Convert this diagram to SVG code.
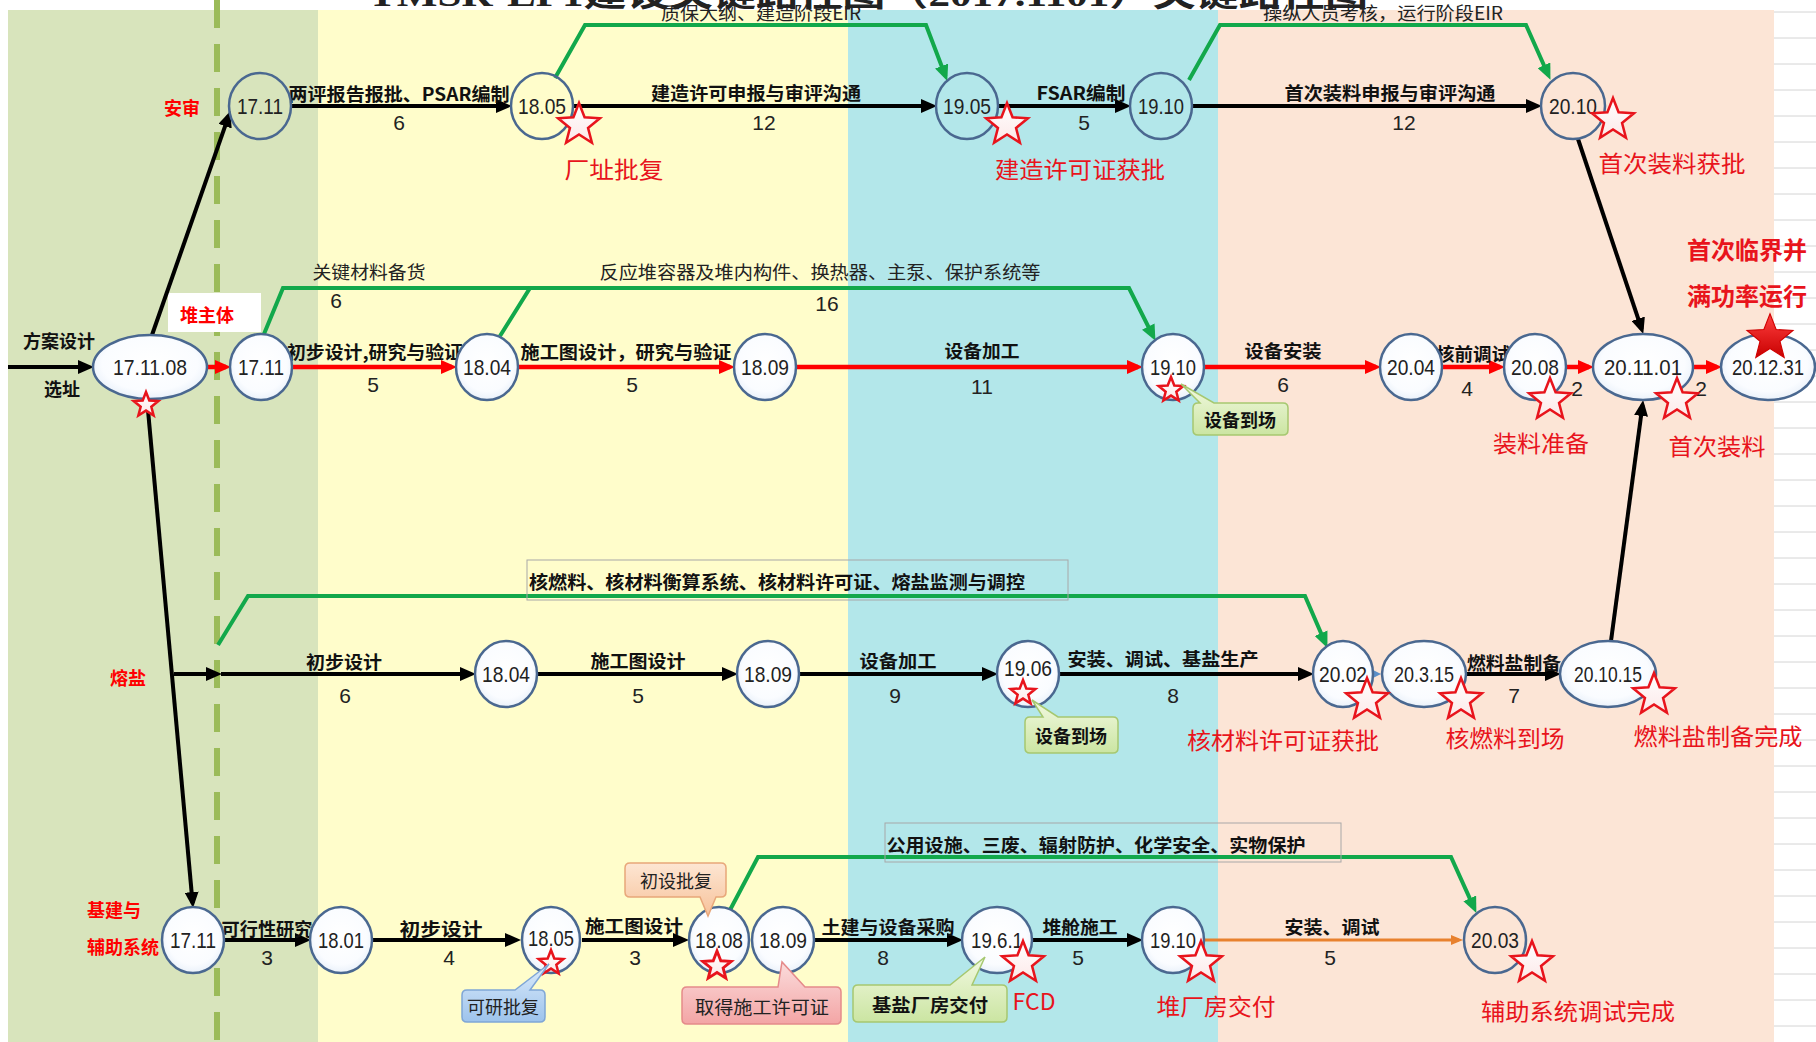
<svg xmlns="http://www.w3.org/2000/svg" width="1816" height="1042" viewBox="0 0 1816 1042">
<style>
.b{font-family:"Noto Sans CJK SC",sans-serif;font-weight:700;font-size:18px;fill:#111;text-anchor:middle;dominant-baseline:central}
.n{font-family:"Noto Sans CJK SC",sans-serif;font-weight:400;font-size:18px;fill:#222;text-anchor:middle;dominant-baseline:central}
.num{font-family:"Liberation Sans",sans-serif;font-size:21px;fill:#222;text-anchor:middle;dominant-baseline:central}
.nt{font-family:"Liberation Sans Narrow","Liberation Sans",sans-serif;font-size:22px;fill:#222;text-anchor:middle;dominant-baseline:central}
.rl{font-family:"Noto Sans CJK SC",sans-serif;font-weight:400;font-size:23px;fill:#E8141C;text-anchor:middle;dominant-baseline:central}
.rg{font-family:"Noto Sans CJK SC",sans-serif;font-weight:700;font-size:18px;fill:#FF0000;dominant-baseline:central}
.rb{font-family:"Noto Sans CJK SC",sans-serif;font-weight:700;font-size:24px;fill:#E8141C;text-anchor:middle;dominant-baseline:central}
.node{fill:url(#nf);stroke:#4A6890;stroke-width:2.5}
.open{fill:none;stroke:#4A6890;stroke-width:2.5}
.k{fill:none;stroke:#000;stroke-width:4}
.r{fill:none;stroke:#FF0000;stroke-width:4.5}
.g{fill:none;stroke:#12A84B;stroke-width:4;stroke-linejoin:miter}
.o{fill:none;stroke:#E8812E;stroke-width:3}
.star{fill:url(#sf);stroke:#E8141C;stroke-width:2.5;stroke-linejoin:miter}
.grid{stroke:#D4D4D4;stroke-width:1}
.lbox{fill:none;stroke:#A8A8A8;stroke-width:1}
</style>
<defs>
<radialGradient id="nf" cx="0.5" cy="0.45" r="0.6"><stop offset="0" stop-color="#FFFFFF"/><stop offset="0.7" stop-color="#FAFCFF"/><stop offset="1" stop-color="#E4EDF8"/></radialGradient>
<linearGradient id="sf" x1="0" y1="0" x2="0" y2="1"><stop offset="0" stop-color="#FFFFFF"/><stop offset="1" stop-color="#FCE8E8"/></linearGradient>
<linearGradient id="ss" x1="0" y1="0" x2="0" y2="1"><stop offset="0" stop-color="#FF4040"/><stop offset="1" stop-color="#C80000"/></linearGradient>
<linearGradient id="cg" x1="0" y1="0" x2="0" y2="1"><stop offset="0" stop-color="#F2F9E1"/><stop offset="1" stop-color="#CBE5A2"/></linearGradient>
<linearGradient id="cb" x1="0" y1="0" x2="0" y2="1"><stop offset="0" stop-color="#DCEBFA"/><stop offset="1" stop-color="#9DC3EC"/></linearGradient>
<linearGradient id="cp" x1="0" y1="0" x2="0" y2="1"><stop offset="0" stop-color="#FDE6D3"/><stop offset="1" stop-color="#F7C29A"/></linearGradient>
<linearGradient id="cr" x1="0" y1="0" x2="0" y2="1"><stop offset="0" stop-color="#FBDCDC"/><stop offset="1" stop-color="#F3A5A5"/></linearGradient>
<marker id="ak" markerUnits="userSpaceOnUse" markerWidth="16" markerHeight="14" refX="11" refY="7" orient="auto"><path d="M0,0 L16,7 L0,14 Z" fill="#000"/></marker>
<marker id="ar" markerUnits="userSpaceOnUse" markerWidth="16" markerHeight="14" refX="11" refY="7" orient="auto"><path d="M0,0 L16,7 L0,14 Z" fill="#FF0000"/></marker>
<marker id="ag" markerUnits="userSpaceOnUse" markerWidth="16" markerHeight="14" refX="11" refY="7" orient="auto"><path d="M0,0 L16,7 L0,14 Z" fill="#12A84B"/></marker>
<marker id="ao" markerUnits="userSpaceOnUse" markerWidth="12" markerHeight="10" refX="8" refY="5" orient="auto"><path d="M0,0 L12,5 L0,10 Z" fill="#E8812E"/></marker>
<marker id="au" markerUnits="userSpaceOnUse" markerWidth="10" markerHeight="10" refX="6" refY="5" orient="auto"><path d="M0,0 L10,5 L0,10 Z" fill="#5B8FC8"/></marker>
<polygon id="st" points="0,-22 5.58,-7.69 20.92,-6.8 9.04,2.94 12.93,17.8 0,9.5 -12.93,17.8 -9.04,2.94 -20.92,-6.8 -5.58,-7.69"/>
<polygon id="sm" points="0,-13 3.29,-4.53 12.36,-4.02 5.33,1.73 7.64,10.52 0,5.6 -7.64,10.52 -5.33,1.73 -12.36,-4.02 -3.29,-4.53"/>
</defs>

<rect x="0" y="0" width="1816" height="1042" fill="#FFFFFF"/>
<text x="368" y="6" font-family="Liberation Serif,'Noto Sans CJK SC',serif" font-weight="700" font-size="34" fill="#222" textLength="1000" lengthAdjust="spacingAndGlyphs">TMSR-LF1建设关键路径图（2017.1101）关键路径图</text>

<g id="bands">
<rect x="8" y="10" width="310" height="1032" fill="#D8E4BC"/>
<rect x="318" y="10" width="530" height="1032" fill="#FFFDCB"/>
<rect x="848" y="10" width="370" height="1032" fill="#B3E7EA"/>
<rect x="1218" y="10" width="556" height="1032" fill="#FCE5D6"/>
</g>
<g id="grid">
<line class="grid" x1="1774" y1="12" x2="1816" y2="12"/><line class="grid" x1="1774" y1="38" x2="1816" y2="38"/><line class="grid" x1="1774" y1="64" x2="1816" y2="64"/><line class="grid" x1="1774" y1="90" x2="1816" y2="90"/><line class="grid" x1="1774" y1="116" x2="1816" y2="116"/><line class="grid" x1="1774" y1="142" x2="1816" y2="142"/><line class="grid" x1="1774" y1="168" x2="1816" y2="168"/><line class="grid" x1="1774" y1="194" x2="1816" y2="194"/><line class="grid" x1="1774" y1="220" x2="1816" y2="220"/><line class="grid" x1="1774" y1="246" x2="1816" y2="246"/><line class="grid" x1="1774" y1="272" x2="1816" y2="272"/><line class="grid" x1="1774" y1="298" x2="1816" y2="298"/><line class="grid" x1="1774" y1="324" x2="1816" y2="324"/><line class="grid" x1="1774" y1="350" x2="1816" y2="350"/><line class="grid" x1="1774" y1="376" x2="1816" y2="376"/><line class="grid" x1="1774" y1="402" x2="1816" y2="402"/><line class="grid" x1="1774" y1="428" x2="1816" y2="428"/><line class="grid" x1="1774" y1="454" x2="1816" y2="454"/><line class="grid" x1="1774" y1="480" x2="1816" y2="480"/><line class="grid" x1="1774" y1="506" x2="1816" y2="506"/><line class="grid" x1="1774" y1="532" x2="1816" y2="532"/><line class="grid" x1="1774" y1="558" x2="1816" y2="558"/><line class="grid" x1="1774" y1="584" x2="1816" y2="584"/><line class="grid" x1="1774" y1="610" x2="1816" y2="610"/><line class="grid" x1="1774" y1="636" x2="1816" y2="636"/><line class="grid" x1="1774" y1="662" x2="1816" y2="662"/><line class="grid" x1="1774" y1="688" x2="1816" y2="688"/><line class="grid" x1="1774" y1="714" x2="1816" y2="714"/><line class="grid" x1="1774" y1="740" x2="1816" y2="740"/><line class="grid" x1="1774" y1="766" x2="1816" y2="766"/><line class="grid" x1="1774" y1="792" x2="1816" y2="792"/><line class="grid" x1="1774" y1="818" x2="1816" y2="818"/><line class="grid" x1="1774" y1="844" x2="1816" y2="844"/><line class="grid" x1="1774" y1="870" x2="1816" y2="870"/><line class="grid" x1="1774" y1="896" x2="1816" y2="896"/><line class="grid" x1="1774" y1="922" x2="1816" y2="922"/><line class="grid" x1="1774" y1="948" x2="1816" y2="948"/><line class="grid" x1="1774" y1="974" x2="1816" y2="974"/><line class="grid" x1="1774" y1="1000" x2="1816" y2="1000"/><line class="grid" x1="1774" y1="1026" x2="1816" y2="1026"/>
</g>
<line id="divider" x1="217" y1="0" x2="217" y2="1042" stroke="#9BBB59" stroke-width="6" stroke-dasharray="28 16"/>
<rect x="168" y="293" width="93" height="39" fill="#FFFFFF"/>

<g id="connectors">
<path class="k" d="M291,106 H507" marker-end="url(#ak)"/>
<path class="k" d="M573,106 H932" marker-end="url(#ak)"/>
<path class="k" d="M998,106 H1126" marker-end="url(#ak)"/>
<path class="k" d="M1192,106 H1537" marker-end="url(#ak)"/>
<path class="k" d="M8,367 H89" marker-end="url(#ak)"/>
<path class="r" d="M207,367 H226" marker-end="url(#ar)"/>
<path class="r" d="M292,367 H452" marker-end="url(#ar)"/>
<path class="r" d="M518,367 H730" marker-end="url(#ar)"/>
<path class="r" d="M796,367 H1138" marker-end="url(#ar)"/>
<path class="r" d="M1204,367 H1376" marker-end="url(#ar)"/>
<path class="r" d="M1442,367 H1500" marker-end="url(#ar)"/>
<path class="r" d="M1566,367 H1589" marker-end="url(#ar)"/>
<path class="r" d="M1693,367 H1717" marker-end="url(#ar)"/>
<path class="k" d="M174,674 H217" marker-end="url(#ak)"/>
<path class="k" d="M221,674 H471" marker-end="url(#ak)"/>
<path class="k" d="M537,674 H733" marker-end="url(#ak)"/>
<path class="k" d="M799,674 H993" marker-end="url(#ak)"/>
<path class="k" d="M1059,674 H1309" marker-end="url(#ak)"/>
<path d="M1373,674 H1377" stroke="#5B8FC8" stroke-width="3" fill="none" marker-end="url(#au)"/>
<path class="k" d="M1466,674 H1556" marker-end="url(#ak)"/>
<path class="k" d="M224,940 H306" marker-end="url(#ak)"/>
<path class="k" d="M372,940 H516" marker-end="url(#ak)"/>
<path class="k" d="M582,940 H684" marker-end="url(#ak)"/>
<path class="k" d="M814,940 H958" marker-end="url(#ak)"/>
<path class="k" d="M1032,940 H1138" marker-end="url(#ak)"/>
<path class="o" d="M1204,940 H1459" marker-end="url(#ao)"/>
<path class="k" d="M152,335 L228.7,115.8" marker-end="url(#ak)"/>
<path class="k" d="M147,399 L192.6,903" marker-end="url(#ak)"/>
<path class="k" d="M1578,139 L1641.7,329.2" marker-end="url(#ak)"/>
<path class="k" d="M1611,641 L1642.5,405" marker-end="url(#ak)"/>
<path class="g" d="M555,78 L585,25 L926,25 L945.5,76.3" marker-end="url(#ag)"/>
<path class="g" d="M1189,80 L1220,25 L1526,25 L1548.4,75.3" marker-end="url(#ag)"/>
<path class="g" d="M264,334 L283,288 L530,288"/>
<path class="g" d="M500,336 L530,288 L1129,288 L1153.2,336.4" marker-end="url(#ag)"/>
<path class="g" d="M218,645 L248,596 L1305,596 L1325.4,643.3" marker-end="url(#ag)"/>
<path class="g" d="M730,910 L758,857 L1451,857 L1474.3,908.4" marker-end="url(#ag)"/>
</g>

<g id="connector-labels">
<text class="b" x="399" y="93" textLength="221" lengthAdjust="spacingAndGlyphs">两评报告报批、PSAR编制</text>
<text class="num" x="399" y="122">6</text>
<text class="b" x="756" y="92" textLength="210" lengthAdjust="spacingAndGlyphs">建造许可申报与审评沟通</text>
<text class="num" x="764" y="122">12</text>
<text class="b" x="1081" y="92" textLength="89" lengthAdjust="spacingAndGlyphs">FSAR编制</text>
<text class="num" x="1084" y="122">5</text>
<text class="b" x="1390" y="92" textLength="211" lengthAdjust="spacingAndGlyphs">首次装料申报与审评沟通</text>
<text class="num" x="1404" y="122">12</text>
<text class="n" x="761" y="12" textLength="200" lengthAdjust="spacingAndGlyphs">质保大纲、建造阶段EIR</text>
<text class="n" x="1383" y="12" textLength="240" lengthAdjust="spacingAndGlyphs">操纵人员考核，运行阶段EIR</text>

<text class="n" x="369" y="271" textLength="113" lengthAdjust="spacingAndGlyphs">关键材料备货</text>
<text class="num" x="336" y="300">6</text>
<text class="n" x="820" y="271" textLength="441" lengthAdjust="spacingAndGlyphs">反应堆容器及堆内构件、换热器、主泵、保护系统等</text>
<text class="num" x="827" y="303">16</text>
<text class="b" x="375" y="351" textLength="176" lengthAdjust="spacingAndGlyphs">初步设计,研究与验证</text>
<text class="num" x="373" y="384">5</text>
<text class="b" x="626" y="351" textLength="211" lengthAdjust="spacingAndGlyphs">施工图设计，研究与验证</text>
<text class="num" x="632" y="384">5</text>
<text class="b" x="982" y="350" textLength="75" lengthAdjust="spacingAndGlyphs">设备加工</text>
<text class="num" x="982" y="386">11</text>
<text class="b" x="1283" y="350" textLength="77" lengthAdjust="spacingAndGlyphs">设备安装</text>
<text class="num" x="1283" y="384">6</text>
<text class="b" x="1473" y="353" textLength="74" lengthAdjust="spacingAndGlyphs">核前调试</text>
<text class="num" x="1467" y="388">4</text>
<text class="num" x="1577" y="388">2</text>
<text class="num" x="1701" y="388">2</text>

<rect class="lbox" x="527" y="560" width="541" height="40"/>
<text class="b" x="777" y="581" textLength="496" lengthAdjust="spacingAndGlyphs">核燃料、核材料衡算系统、核材料许可证、熔盐监测与调控</text>
<text class="b" x="344" y="661" textLength="76" lengthAdjust="spacingAndGlyphs">初步设计</text>
<text class="num" x="345" y="695">6</text>
<text class="b" x="638" y="660" textLength="95" lengthAdjust="spacingAndGlyphs">施工图设计</text>
<text class="num" x="638" y="695">5</text>
<text class="b" x="898" y="660" textLength="77" lengthAdjust="spacingAndGlyphs">设备加工</text>
<text class="num" x="895" y="695">9</text>
<text class="b" x="1163" y="658" textLength="191" lengthAdjust="spacingAndGlyphs">安装、调试、基盐生产</text>
<text class="num" x="1173" y="695">8</text>
<text class="b" x="1514" y="662" textLength="94" lengthAdjust="spacingAndGlyphs">燃料盐制备</text>
<text class="num" x="1514" y="695">7</text>

<rect class="lbox" x="885" y="823" width="456" height="39"/>
<text class="b" x="1096" y="844" textLength="419" lengthAdjust="spacingAndGlyphs">公用设施、三废、辐射防护、化学安全、实物保护</text>
<text class="b" x="267" y="928" textLength="91" lengthAdjust="spacingAndGlyphs">可行性研究</text>
<text class="num" x="267" y="957">3</text>
<text class="b" x="441" y="928" textLength="83" lengthAdjust="spacingAndGlyphs">初步设计</text>
<text class="num" x="449" y="957">4</text>
<text class="b" x="634" y="925" textLength="98" lengthAdjust="spacingAndGlyphs">施工图设计</text>
<text class="num" x="635" y="957">3</text>
<text class="b" x="888" y="926" textLength="133" lengthAdjust="spacingAndGlyphs">土建与设备采购</text>
<text class="num" x="883" y="957">8</text>
<text class="b" x="1080" y="926" textLength="75" lengthAdjust="spacingAndGlyphs">堆舱施工</text>
<text class="num" x="1078" y="957">5</text>
<text class="b" x="1332" y="926" textLength="95" lengthAdjust="spacingAndGlyphs">安装、调试</text>
<text class="num" x="1330" y="957">5</text>
</g>

<g id="n-r1-1711"><ellipse class="open" cx="260" cy="106" rx="31" ry="33"/><text class="nt" x="260" y="106" textLength="46" lengthAdjust="spacingAndGlyphs">17.11</text></g>
<g id="n-r1-1805"><ellipse class="open" cx="542" cy="106" rx="31" ry="33"/><text class="nt" x="542" y="106" textLength="48" lengthAdjust="spacingAndGlyphs">18.05</text></g>
<g id="n-r1-1905"><ellipse class="open" cx="967" cy="106" rx="31" ry="33"/><text class="nt" x="967" y="106" textLength="48" lengthAdjust="spacingAndGlyphs">19.05</text></g>
<g id="n-r1-1910"><ellipse class="open" cx="1161" cy="106" rx="31" ry="33"/><text class="nt" x="1161" y="106" textLength="46" lengthAdjust="spacingAndGlyphs">19.10</text></g>
<g id="n-r1-2010"><ellipse class="open" cx="1573" cy="106" rx="32" ry="33"/><text class="nt" x="1573" y="106" textLength="48" lengthAdjust="spacingAndGlyphs">20.10</text></g>

<g id="n-start"><ellipse class="node" cx="150" cy="367" rx="57" ry="32"/><text class="nt" x="150" y="367" textLength="74" lengthAdjust="spacingAndGlyphs">17.11.08</text></g>
<g id="n-r2-1711"><ellipse class="node" cx="261" cy="367" rx="31" ry="33"/><text class="nt" x="261" y="367" textLength="46" lengthAdjust="spacingAndGlyphs">17.11</text></g>
<g id="n-r2-1804"><ellipse class="node" cx="487" cy="367" rx="31" ry="33"/><text class="nt" x="487" y="367" textLength="48" lengthAdjust="spacingAndGlyphs">18.04</text></g>
<g id="n-r2-1809"><ellipse class="node" cx="765" cy="367" rx="31" ry="33"/><text class="nt" x="765" y="367" textLength="48" lengthAdjust="spacingAndGlyphs">18.09</text></g>
<g id="n-r2-1910"><ellipse class="node" cx="1173" cy="367" rx="31" ry="33"/><text class="nt" x="1173" y="367" textLength="46" lengthAdjust="spacingAndGlyphs">19.10</text></g>
<g id="n-r2-2004"><ellipse class="node" cx="1411" cy="367" rx="31" ry="33"/><text class="nt" x="1411" y="367" textLength="48" lengthAdjust="spacingAndGlyphs">20.04</text></g>
<g id="n-r2-2008"><ellipse class="node" cx="1535" cy="367" rx="31" ry="33"/><text class="nt" x="1535" y="367" textLength="48" lengthAdjust="spacingAndGlyphs">20.08</text></g>
<g id="n-r2-201101"><ellipse class="node" cx="1643" cy="367" rx="50" ry="33"/><text class="nt" x="1643" y="367" textLength="78" lengthAdjust="spacingAndGlyphs">20.11.01</text></g>
<g id="n-r2-201231"><ellipse class="node" cx="1768" cy="367" rx="47" ry="33"/><text class="nt" x="1768" y="367" textLength="72" lengthAdjust="spacingAndGlyphs">20.12.31</text></g>

<g id="n-r3-1804"><ellipse class="node" cx="506" cy="674" rx="31" ry="33"/><text class="nt" x="506" y="674" textLength="48" lengthAdjust="spacingAndGlyphs">18.04</text></g>
<g id="n-r3-1809"><ellipse class="node" cx="768" cy="674" rx="31" ry="33"/><text class="nt" x="768" y="674" textLength="48" lengthAdjust="spacingAndGlyphs">18.09</text></g>
<g id="n-r3-1906"><ellipse class="node" cx="1028" cy="674" rx="31" ry="33"/><text class="nt" x="1028" y="668" textLength="48" lengthAdjust="spacingAndGlyphs">19.06</text></g>
<g id="n-r3-2002"><ellipse class="node" cx="1343" cy="674" rx="30" ry="33"/><text class="nt" x="1343" y="674" textLength="48" lengthAdjust="spacingAndGlyphs">20.02</text></g>
<g id="n-r3-20315"><ellipse class="node" cx="1424" cy="674" rx="42" ry="33"/><text class="nt" x="1424" y="674" textLength="60" lengthAdjust="spacingAndGlyphs">20.3.15</text></g>
<g id="n-r3-201015"><ellipse class="node" cx="1608" cy="674" rx="48" ry="33"/><text class="nt" x="1608" y="674" textLength="68" lengthAdjust="spacingAndGlyphs">20.10.15</text></g>

<g id="n-r4-1711"><ellipse class="node" cx="193" cy="940" rx="31" ry="33"/><text class="nt" x="193" y="940" textLength="46" lengthAdjust="spacingAndGlyphs">17.11</text></g>
<g id="n-r4-1801"><ellipse class="node" cx="341" cy="940" rx="31" ry="33"/><text class="nt" x="341" y="940" textLength="46" lengthAdjust="spacingAndGlyphs">18.01</text></g>
<g id="n-r4-1805"><ellipse class="node" cx="551" cy="940" rx="29" ry="33"/><text class="nt" x="551" y="938" textLength="46" lengthAdjust="spacingAndGlyphs">18.05</text></g>
<g id="n-r4-1808"><ellipse class="node" cx="719" cy="940" rx="30" ry="33"/><text class="nt" x="719" y="940" textLength="48" lengthAdjust="spacingAndGlyphs">18.08</text></g>
<g id="n-r4-1809"><ellipse class="node" cx="783" cy="940" rx="31" ry="33"/><text class="nt" x="783" y="940" textLength="48" lengthAdjust="spacingAndGlyphs">18.09</text></g>
<g id="n-r4-1961"><ellipse class="node" cx="997" cy="940" rx="35" ry="33"/><text class="nt" x="997" y="940" textLength="52" lengthAdjust="spacingAndGlyphs">19.6.1</text></g>
<g id="n-r4-1910"><ellipse class="node" cx="1173" cy="940" rx="31" ry="33"/><text class="nt" x="1173" y="940" textLength="46" lengthAdjust="spacingAndGlyphs">19.10</text></g>
<g id="n-r4-2003"><ellipse class="open" cx="1495" cy="940" rx="31" ry="33"/><text class="nt" x="1495" y="940" textLength="48" lengthAdjust="spacingAndGlyphs">20.03</text></g>

<g id="stars">
<use href="#st" class="star" transform="translate(579,125)"/>
<use href="#st" class="star" transform="translate(1007,125)"/>
<use href="#st" class="star" transform="translate(1613,120)"/>
<use href="#st" class="star" transform="translate(1550,400)"/>
<use href="#st" class="star" transform="translate(1677,400)"/>
<use href="#st" class="star" transform="translate(1367,700)"/>
<use href="#st" class="star" transform="translate(1461,700)"/>
<use href="#st" class="star" transform="translate(1654,695)"/>
<use href="#st" class="star" transform="translate(1023,963)"/>
<use href="#st" class="star" transform="translate(1201,963)"/>
<use href="#st" class="star" transform="translate(1532,963)"/>
<use href="#sm" class="star" transform="translate(146,405)"/>
<use href="#sm" class="star" transform="translate(1171,390)"/>
<use href="#sm" class="star" transform="translate(1023,693)"/>
<use href="#sm" class="star" transform="translate(551,963)"/>
<use href="#sm" class="star" transform="translate(717,966) scale(1.15)"/>
<use href="#st" fill="url(#ss)" stroke="#D00000" stroke-width="1" transform="translate(1770,338) scale(1.1)"/>
</g>

<g id="group-labels">
<text class="rg" x="164" y="107">安审</text>
<text class="rg" x="180" y="314">堆主体</text>
<text class="rg" x="110" y="677">熔盐</text>
<text class="rg" x="87" y="909">基建与</text>
<text class="rg" x="87" y="946">辅助系统</text>
<text class="b" x="59" y="340">方案设计</text>
<text class="b" x="62" y="388">选址</text>
<text class="rb" x="1747" y="248">首次临界并</text>
<text class="rb" x="1747" y="294">满功率运行</text>
</g>

<g id="milestones">
<text class="rl" x="614" y="168" textLength="99" lengthAdjust="spacingAndGlyphs">厂址批复</text>
<text class="rl" x="1080" y="168" textLength="170" lengthAdjust="spacingAndGlyphs">建造许可证获批</text>
<text class="rl" x="1672" y="162" textLength="147" lengthAdjust="spacingAndGlyphs">首次装料获批</text>
<text class="rl" x="1541" y="442" textLength="96" lengthAdjust="spacingAndGlyphs">装料准备</text>
<text class="rl" x="1717" y="445" textLength="97" lengthAdjust="spacingAndGlyphs">首次装料</text>
<text class="rl" x="1283" y="739" textLength="192" lengthAdjust="spacingAndGlyphs">核材料许可证获批</text>
<text class="rl" x="1505" y="737" textLength="119" lengthAdjust="spacingAndGlyphs">核燃料到场</text>
<text class="rl" x="1718" y="735" textLength="169" lengthAdjust="spacingAndGlyphs">燃料盐制备完成</text>
<text class="rl" x="1034" y="1000" font-family="Liberation Sans,sans-serif" font-size="25">FCD</text>
<text class="rl" x="1216" y="1005" textLength="119" lengthAdjust="spacingAndGlyphs">堆厂房交付</text>
<text class="rl" x="1578" y="1010" textLength="194" lengthAdjust="spacingAndGlyphs">辅助系统调试完成</text>
</g>

<g id="callouts">
<g id="c-r2"><path d="M1198,403 L1200,403 L1181,384 L1214,403 L1283,403 Q1288,403 1288,408 L1288,430 Q1288,435 1283,435 L1198,435 Q1193,435 1193,430 L1193,408 Q1193,403 1198,403 Z" fill="url(#cg)" stroke="#A6C870" stroke-width="1.5"/><text class="b" x="1240" y="419">设备到场</text></g>
<g id="c-r3"><path d="M1030,717 L1043,717 L1032,700 L1058,717 L1113,717 Q1118,717 1118,722 L1118,748 Q1118,753 1113,753 L1030,753 Q1025,753 1025,748 L1025,722 Q1025,717 1030,717 Z" fill="url(#cg)" stroke="#A6C870" stroke-width="1.5"/><text class="b" x="1071" y="735">设备到场</text></g>
<g id="c-csp"><path d="M630,863 L721,863 Q726,863 726,868 L726,892 Q726,897 721,897 L716,897 L708,916 L700,897 L630,897 Q625,897 625,892 L625,868 Q625,863 630,863 Z" fill="url(#cp)" stroke="#E8A77A" stroke-width="1.5"/><text class="n" x="676" y="880">初设批复</text></g>
<g id="c-kyp"><path d="M467,990 L515,990 L549,964 L530,990 L540,990 Q545,990 545,995 L545,1017 Q545,1022 540,1022 L467,1022 Q462,1022 462,1017 L462,995 Q462,990 467,990 Z" fill="url(#cb)" stroke="#7FA6D6" stroke-width="1.5"/><text class="n" x="503" y="1006">可研批复</text></g>
<g id="c-sgxk"><path d="M687,987 L778,987 L782,962 L805,987 L836,987 Q841,987 841,992 L841,1019 Q841,1024 836,1024 L687,1024 Q682,1024 682,1019 L682,992 Q682,987 687,987 Z" fill="url(#cr)" stroke="#E58A8A" stroke-width="1.5"/><text class="n" x="762" y="1006" textLength="134" lengthAdjust="spacingAndGlyphs">取得施工许可证</text></g>
<g id="c-jycf"><path d="M858,985 L950,985 L985,957 L972,985 L1002,985 Q1007,985 1007,990 L1007,1017 Q1007,1022 1002,1022 L858,1022 Q853,1022 853,1017 L853,990 Q853,985 858,985 Z" fill="url(#cg)" stroke="#A6C870" stroke-width="1.5"/><text class="b" x="930" y="1004" textLength="116" lengthAdjust="spacingAndGlyphs">基盐厂房交付</text></g>
</g>
</svg>
